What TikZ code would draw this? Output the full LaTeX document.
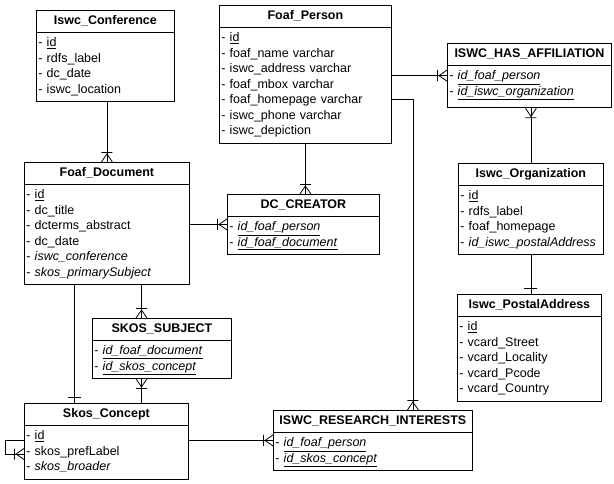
\documentclass[tikz,border=0pt]{standalone}
\usepackage{fontspec}
\setmainfont{Liberation Sans}
\usetikzlibrary{shapes.multipart,calc}

% crow's foot with a bar (one or many)
\pgfdeclarearrow{
  name = crowbar,
  setup code = {
    \pgfarrowssettipend{0pt}
    \pgfarrowssetlineend{0pt}
    \pgfarrowssetbackend{-10pt}
    \pgfarrowsupperhullpoint{0pt}{5.5pt}
    \pgfarrowsupperhullpoint{-10pt}{5.5pt}
  },
  drawing code = {
    \pgfpathmoveto{\pgfqpoint{0pt}{5.5pt}}
    \pgfpathlineto{\pgfqpoint{-8pt}{0pt}}
    \pgfpathlineto{\pgfqpoint{0pt}{-5.5pt}}
    \pgfpathmoveto{\pgfqpoint{-9.5pt}{5.5pt}}
    \pgfpathlineto{\pgfqpoint{-9.5pt}{-5.5pt}}
    \pgfusepathqstroke
  }
}
% single bar (exactly one)
\pgfdeclarearrow{
  name = onebar,
  setup code = {
    \pgfarrowssettipend{0pt}
    \pgfarrowssetlineend{0pt}
    \pgfarrowssetbackend{-6pt}
    \pgfarrowsupperhullpoint{0pt}{6.5pt}
    \pgfarrowsupperhullpoint{-6pt}{6.5pt}
  },
  drawing code = {
    \pgfpathmoveto{\pgfqpoint{-5.5pt}{6.5pt}}
    \pgfpathlineto{\pgfqpoint{-5.5pt}{-6.5pt}}
    \pgfusepathqstroke
  }
}

\newcommand{\ehead}[1]{\hbox to \hsize{\hfil\textbf{#1}\strut\hfil}}
\newcommand{\erow}[1]{- #1\strut}
\newcommand{\ekey}[1]{\underline{#1}}
\newcommand{\efk}[1]{\underline{\textit{#1}}}

\begin{document}
\begin{tikzpicture}[x=1pt,y=-1pt,line width=0.8pt,
   entity/.style={draw, rectangle split, rectangle split parts=2,
     anchor=north west, inner xsep=2pt, inner ysep=3pt, align=left,
     font=\fontsize{12.5}{15.5}\selectfont}]
  \useasboundingbox (0,0) rectangle (614,483);
  \node[entity, text width=134pt] (conf) at (36,10) {\ehead{Iswc\_Conference}
    \nodepart{two}\erow{\ekey{id}}\\ \erow{rdfs\_label}\\ \erow{dc\_date}\\ \erow{iswc\_location}};
  \node[entity, text width=168pt] (person) at (219,5) {\ehead{Foaf\_Person}
    \nodepart{two}\erow{\ekey{id}}\\ \erow{foaf\_name varchar}\\ \erow{iswc\_address varchar}\\
    \erow{foaf\_mbox varchar}\\ \erow{foaf\_homepage varchar}\\ \erow{iswc\_phone varchar}\\
    \erow{iswc\_depiction}};
  \node[entity, text width=160pt] (aff) at (447,43) {\ehead{ISWC\_HAS\_AFFILIATION}
    \nodepart{two}\erow{\efk{id\_foaf\_person}}\\ \erow{\efk{id\_iswc\_organization}}\rule[-9pt]{0pt}{0pt}};
  \node[entity, text width=161pt] (doc) at (24,162) {\ehead{Foaf\_Document}
    \nodepart{two}\erow{\ekey{id}}\\ \erow{dc\_title}\\ \erow{dcterms\_abstract}\\ \erow{dc\_date}\\
    \erow{\textit{iswc\_conference}}\\ \erow{\textit{skos\_primarySubject}}};
  \node[entity, text width=148pt] (creator) at (227,194) {\ehead{DC\_CREATOR}
    \nodepart{two}\erow{\efk{id\_foaf\_person}}\\ \erow{\efk{id\_foaf\_document}}};
  \node[entity, text width=141pt] (org) at (458,163) {\ehead{Iswc\_Organization}
    \nodepart{two}\erow{\ekey{id}}\\ \erow{rdfs\_label}\\ \erow{foaf\_homepage}\\
    \erow{\textit{id\_iswc\_postalAddress}}};
  \node[entity, text width=140pt] (postal) at (457,294) {\ehead{Iswc\_PostalAddress}
    \nodepart{two}\erow{\ekey{id}}\\ \erow{vcard\_Street}\\ \erow{vcard\_Locality}\\
    \erow{vcard\_Pcode}\\ \erow{vcard\_Country}};
  \node[entity, text width=135pt] (subject) at (92,318) {\ehead{SKOS\_SUBJECT}
    \nodepart{two}\erow{\efk{id\_foaf\_document}}\\ \erow{\efk{id\_skos\_concept}}};
  \node[entity, text width=160pt] (concept) at (24,403) {\ehead{Skos\_Concept}
    \nodepart{two}\erow{\ekey{id}}\\ \erow{skos\_prefLabel}\\ \erow{\textit{skos\_broader}}};
  \node[entity, text width=195pt] (research) at (273,410) {\ehead{ISWC\_RESEARCH\_INTERESTS}
    \nodepart{two}\erow{\efk{id\_foaf\_person}}\\ \erow{\efk{id\_skos\_concept}}};
  % relationships
  \draw[-crowbar] (doc.north |- conf.south) -- (doc.north);
  \draw[-crowbar] (person.south) -- (person.south |- creator.north);
  \draw[-crowbar] (doc.east |- creator.west) -- (creator.west);
  \draw[-crowbar] (person.east |- aff.west) -- (aff.west);
  \draw[-crowbar] (person.east |- 0,99) -| ($(research.north)+(40,0)$);
  \draw[-crowbar] (org.north) -- (org.north |- aff.south);
  \draw[-onebar] (org.south) -- (org.south |- postal.north);
  \draw[-onebar] (74,0 |- doc.south) -- (74,0 |- concept.north);
  \draw[-crowbar] (141.5,0 |- doc.south) -- (141.5,0 |- subject.north);
  \draw[-crowbar] (141.5,0 |- concept.north) -- (141.5,0 |- subject.south);
  \draw[-crowbar] (concept.east |- research.west) -- (research.west);
  \draw[-crowbar] (concept.west |- 0,440) -- ++(-19,0) |- (concept.west |- 0,454);
\end{tikzpicture}
\end{document}
